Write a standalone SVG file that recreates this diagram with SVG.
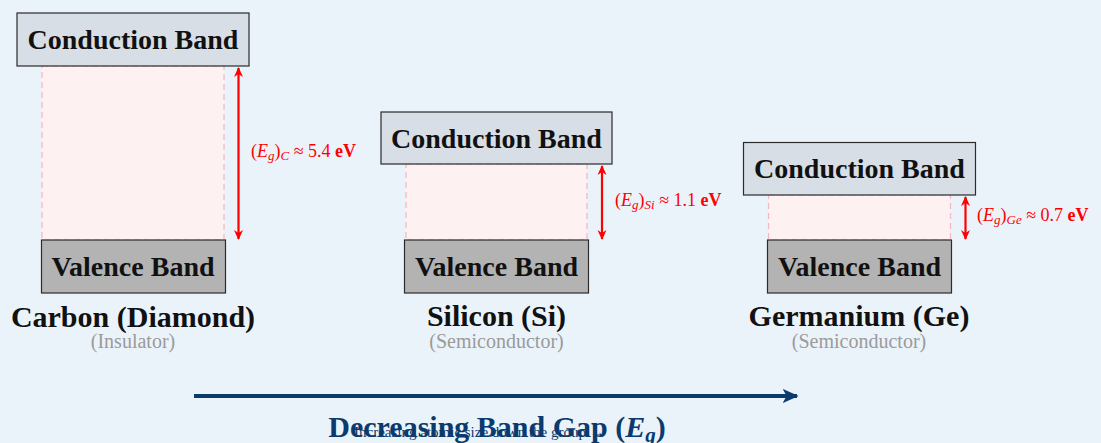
<svg xmlns="http://www.w3.org/2000/svg" width="1101" height="443" viewBox="0 0 1101 443">
<style>
.cb{fill:#d8dee6;stroke:#2b2b2b;stroke-width:1.2}
.vb{fill:#b3b3b3;stroke:#2b2b2b;stroke-width:1.2}
.gap{fill:#fdf1f2;stroke:#f4b6bf;stroke-width:1.2;stroke-dasharray:6,4}
.bt{font-family:"Liberation Serif",serif;font-weight:bold;font-size:28px;fill:#111;text-anchor:middle}
.nm{font-family:"Liberation Serif",serif;font-weight:bold;font-size:30px;fill:#111;text-anchor:middle}
.sub{font-family:"Liberation Serif",serif;font-size:20px;fill:#9a9a9a;text-anchor:middle}
.eg{font-family:"Liberation Serif",serif;font-size:18px;fill:#f00}
.it{font-style:italic}
.b{font-weight:bold}
.ga{stroke:#f00;stroke-width:2.2;fill:none}
</style>
<defs>
<marker id="rh" viewBox="0 0 10 10" refX="9" refY="5" markerWidth="10" markerHeight="10" orient="auto-start-reverse" markerUnits="userSpaceOnUse">
<path d="M0,0.5 L10,5 L0,9.5 L3,5 Z" fill="#f00"/>
</marker>
<marker id="bh" viewBox="0 0 10 10" refX="9" refY="5" markerWidth="16" markerHeight="16" orient="auto" markerUnits="userSpaceOnUse">
<path d="M0,0.5 L10,5 L0,9.5 L2.5,5 Z" fill="#0b3b6e"/>
</marker>
</defs>
<rect width="1101" height="443" fill="#ebf3fa"/>

<g id="carbon">
<rect class="gap" x="42" y="66" width="182" height="174"/>
<rect class="cb" x="17" y="13" width="232" height="53"/>
<text class="bt" x="133" y="49">Conduction Band</text>
<rect class="vb" x="41.5" y="240" width="184" height="53"/>
<text class="bt" x="133" y="276">Valence Band</text>
<text class="nm" x="133" y="327">Carbon (Diamond)</text>
<text class="sub" x="133" y="348">(Insulator)</text>
</g>

<g id="silicon">
<rect class="gap" x="406" y="164" width="181" height="76"/>
<rect class="cb" x="381" y="112" width="231" height="52"/>
<text class="bt" x="496.5" y="148">Conduction Band</text>
<rect class="vb" x="404.5" y="240" width="184" height="53"/>
<text class="bt" x="496.5" y="276">Valence Band</text>
<text class="nm" x="496.5" y="326">Silicon (Si)</text>
<text class="sub" x="496.5" y="348">(Semiconductor)</text>
</g>

<g id="germanium">
<rect class="gap" x="768.5" y="195" width="182" height="45"/>
<rect class="cb" x="743.5" y="142.5" width="232" height="52.5"/>
<text class="bt" x="859.5" y="178">Conduction Band</text>
<rect class="vb" x="767.5" y="240" width="184" height="53"/>
<text class="bt" x="859.5" y="276">Valence Band</text>
<text class="nm" x="859" y="326">Germanium (Ge)</text>
<text class="sub" x="859" y="348">(Semiconductor)</text>
</g>

<g id="connectors">
<line class="ga" x1="238.5" y1="68" x2="238.5" y2="239" marker-start="url(#rh)" marker-end="url(#rh)"/>
<line class="ga" x1="602" y1="166" x2="602" y2="239" marker-start="url(#rh)" marker-end="url(#rh)"/>
<line class="ga" x1="965.5" y1="197" x2="965.5" y2="239" marker-start="url(#rh)" marker-end="url(#rh)"/>
<line x1="194" y1="396" x2="797" y2="396" stroke="#0b3b6e" stroke-width="4" marker-end="url(#bh)"/>
</g>

<g id="labels">
<text class="eg" x="251" y="157">(<tspan class="it">E</tspan><tspan class="it" font-size="13" dy="3">g</tspan><tspan dy="-3">)</tspan><tspan class="it" font-size="13" dy="3">C</tspan><tspan dy="-3"> ≈ 5.4 </tspan><tspan class="b">eV</tspan></text>
<text class="eg" x="615" y="206">(<tspan class="it">E</tspan><tspan class="it" font-size="13" dy="3">g</tspan><tspan dy="-3">)</tspan><tspan class="it" font-size="13" dy="3">Si</tspan><tspan dy="-3"> ≈ 1.1 </tspan><tspan class="b">eV</tspan></text>
<text class="eg" x="977" y="221">(<tspan class="it">E</tspan><tspan class="it" font-size="13" dy="3">g</tspan><tspan dy="-3">)</tspan><tspan class="it" font-size="13" dy="3">Ge</tspan><tspan dy="-3"> ≈ 0.7 </tspan><tspan class="b">eV</tspan></text>
<text x="497" y="437" font-family="Liberation Serif, serif" font-weight="bold" font-size="30" fill="#0b3b6e" text-anchor="middle">Decreasing Band Gap (<tspan font-style="italic">E</tspan><tspan font-style="italic" font-size="21" dy="5">g</tspan><tspan dy="-5">)</tspan></text>
<text x="354" y="437" font-family="Liberation Serif, serif" font-size="15" fill="#0b3b6e">Increasing atomic size down the group →</text>
</g>
</svg>
